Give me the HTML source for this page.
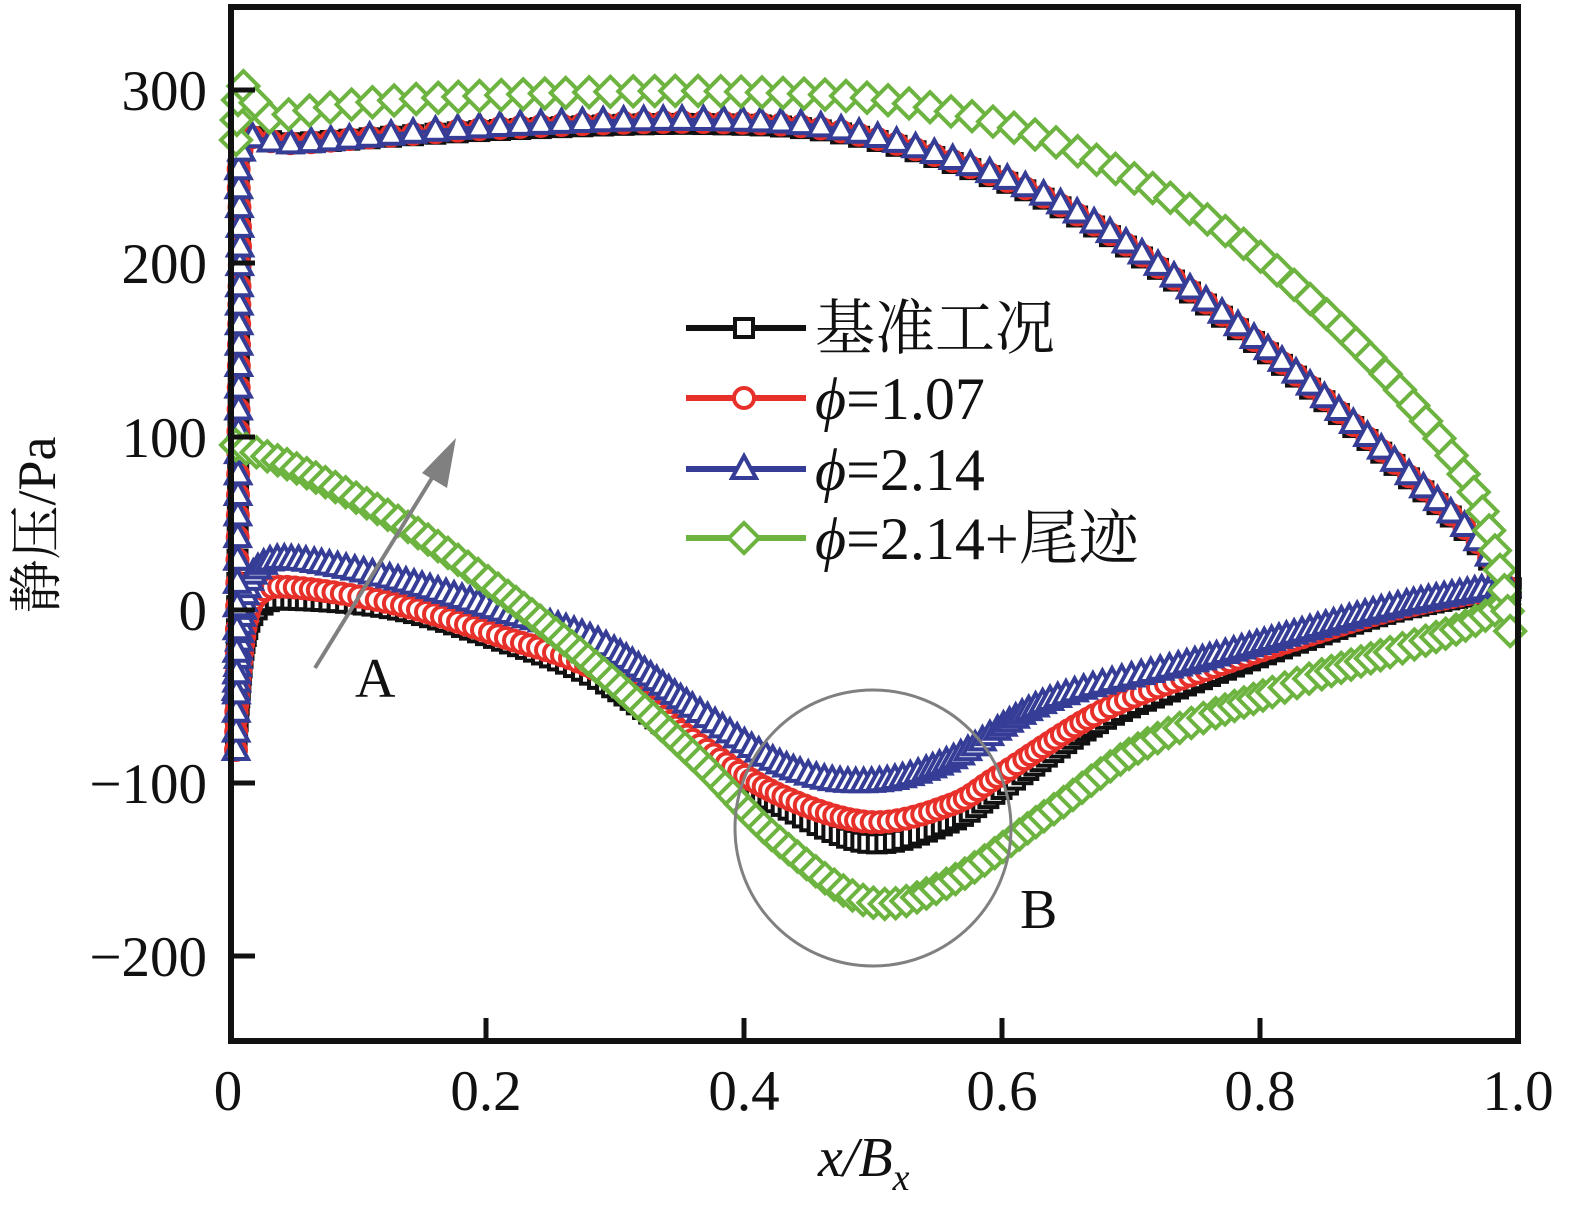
<!DOCTYPE html>
<html><head><meta charset="utf-8"><style>
html,body{margin:0;padding:0;background:#fff;}
svg{display:block;}
text{font-family:"Liberation Serif","Noto Serif CJK SC",serif;}
</style></head><body>
<svg id="s" width="1581" height="1212" viewBox="0 0 1581 1212" xmlns="http://www.w3.org/2000/svg">
<g id="curves"></g>
<rect x="231" y="7" width="1287" height="1034" fill="none" stroke="#111" stroke-width="6"/>
<g stroke="#111" stroke-width="5">
<line x1="231" y1="90" x2="255" y2="90"/><line x1="231" y1="263" x2="255" y2="263"/>
<line x1="231" y1="437" x2="255" y2="437"/><line x1="231" y1="610" x2="255" y2="610"/>
<line x1="231" y1="783" x2="255" y2="783"/><line x1="231" y1="956" x2="255" y2="956"/>
<line x1="486" y1="1041" x2="486" y2="1018"/><line x1="744" y1="1041" x2="744" y2="1018"/>
<line x1="1002" y1="1041" x2="1002" y2="1018"/><line x1="1260" y1="1041" x2="1260" y2="1018"/>
</g>
<g font-size="57" fill="#111" text-anchor="end">
<text x="207" y="110">300</text><text x="207" y="283">200</text><text x="207" y="457">100</text>
<text x="207" y="630">0</text><text x="207" y="803">−100</text><text x="207" y="976">−200</text>
</g>
<g font-size="57" fill="#111" text-anchor="middle">
<text x="228" y="1110">0</text><text x="486" y="1110">0.2</text><text x="744" y="1110">0.4</text>
<text x="1002" y="1110">0.6</text><text x="1260" y="1110">0.8</text><text x="1518" y="1110">1.0</text>
</g>
<text x="818" y="1176" font-size="56" font-style="italic" fill="#111">x/B<tspan font-size="38" dy="14">x</tspan></text>
<text transform="translate(55,525) rotate(-90)" font-size="54" text-anchor="middle" fill="#111">静压/Pa</text>
<line x1="315" y1="668" x2="440" y2="465" stroke="#808080" stroke-width="4"/>
<polygon points="456,438 447,488 422,473" fill="#808080"/>
<text x="355" y="697" font-size="56" fill="#111">A</text>
<circle cx="873" cy="828" r="138" fill="none" stroke="#808080" stroke-width="3"/>
<text x="1020" y="928" font-size="56" fill="#111">B</text>
<g id="legend"></g>
</svg>
<script>
const C={k:"#111",r:"#e8302a",b:"#353d96",g:"#6cb33f"};
function interp(pts){
  const dense=[];
  for(let i=0;i<pts.length-1;i++){
    const p0=pts[Math.max(0,i-1)],p1=pts[i],p2=pts[i+1],p3=pts[Math.min(pts.length-1,i+2)];
    for(let t=0;t<1;t+=0.02){
      const t2=t*t,t3=t2*t;
      const f=(a,b,c,d)=>0.5*((2*b)+(-a+c)*t+(2*a-5*b+4*c-d)*t2+(-a+3*b-3*c+d)*t3);
      dense.push([f(p0[0],p1[0],p2[0],p3[0]),f(p0[1],p1[1],p2[1],p3[1])]);
    }
  }
  dense.push(pts[pts.length-1]);
  return dense;
}
function sample(dense,step){
  const out=[dense[0]];let acc=0;
  for(let i=1;i<dense.length;i++){
    acc+=Math.hypot(dense[i][0]-dense[i-1][0],dense[i][1]-dense[i-1][1]);
    if(acc>=step){out.push(dense[i]);acc=0;}
  }
  return out;
}
function marker(t,x,y,col){
  const sw=4;
  if(t=="s")return `<rect x="${x-9}" y="${y-9}" width="18" height="18" fill="#fff" stroke="${col}" stroke-width="${sw}"/>`;
  if(t=="c")return `<circle cx="${x}" cy="${y}" r="10" fill="#fff" stroke="${col}" stroke-width="${sw}"/>`;
  if(t=="t")return `<polygon points="${x},${y-13} ${x+12},${y+9} ${x-12},${y+9}" fill="#fff" stroke="${col}" stroke-width="${sw}"/>`;
  return `<polygon points="${x},${y-15} ${x+15},${y} ${x},${y+15} ${x-15},${y}" fill="#fff" stroke="${col}" stroke-width="${sw}"/>`;
}
function series(pts,t,col,step){
  const d=interp(pts);
  let s=`<polyline fill="none" stroke="${col}" stroke-width="4" points="${d.map(p=>p[0].toFixed(1)+','+p[1].toFixed(1)).join(' ')}"/>`;
  sample(d,step).forEach(p=>s+=marker(t,p[0],p[1],col));
  return s;
}
const upper=[[236,750],[238,500],[240,250],[244,145],[300,143],[500,128],[700,122],[850,133],[1000,178],[1100,228],[1200,298],[1300,378],[1400,468],[1480,545],[1512,605]];
const up=(dy)=>upper.map(p=>[p[0],p[1]+(p[0]>300?dy:0)]);
const gUp=[[236,140],[238,100],[242,85],[270,118],[300,112],[400,100],[600,92],[750,92],[900,102],[1050,140],[1200,215],[1300,290],[1400,390],[1470,485],[1500,570],[1512,645]];
const kLo=[[236,745],[245,640],[262,605],[300,600],[400,610],[500,640],[600,680],[700,752],[780,805],[870,843],[950,822],[1000,790],[1100,722],[1200,680],[1300,642],[1400,610],[1512,588]];
const rLo=[[236,720],[246,625],[262,592],[300,588],[400,605],[500,636],[600,672],[700,745],[780,795],[870,822],[950,805],[1000,775],[1100,712],[1200,672],[1300,638],[1400,608],[1512,586]];
const bLo=[[236,690],[244,600],[262,565],[300,560],[400,580],[500,610],[600,642],[700,712],[790,768],[870,782],[950,760],[1050,700],[1200,660],[1300,632],[1400,605],[1512,584]];
const gLo=[[236,445],[300,470],[400,522],[500,590],[600,670],[700,762],[780,842],[870,902],[950,882],[1050,812],[1150,742],[1300,682],[1450,632],[1512,600]];
let h="";
h+=series(kLo,"s",C.k,7);h+=series(up(2),"s",C.k,18);
h+=series(rLo,"c",C.r,7);h+=series(up(0),"c",C.r,18);
h+=series(bLo,"t",C.b,7);h+=series(up(-2),"t",C.b,18);
h+=series(gLo,"d",C.g,10);h+=series(gUp,"d",C.g,20);
document.getElementById("curves").innerHTML=h;
const L=[["s",C.k,328,"基准工况"],["c",C.r,398,"=1.07"],["t",C.b,469,"=2.14"],["d",C.g,538,"=2.14+尾迹"]];
let lg="";
L.forEach((r,i)=>{
  lg+=`<line x1="686" y1="${r[2]}" x2="806" y2="${r[2]}" stroke="${r[1]}" stroke-width="6"/>`+marker(r[0],744,r[2],r[1]);
  if(i==0)lg+=`<text x="815" y="${r[2]+21}" font-size="60" fill="#111">${r[3]}</text>`;
  else lg+=`<text x="815" y="${r[2]+21}" font-size="60" fill="#111"><tspan font-style="italic">ϕ</tspan>${r[3]}</text>`;
});
document.getElementById("legend").innerHTML=lg;
</script>
</body></html>
